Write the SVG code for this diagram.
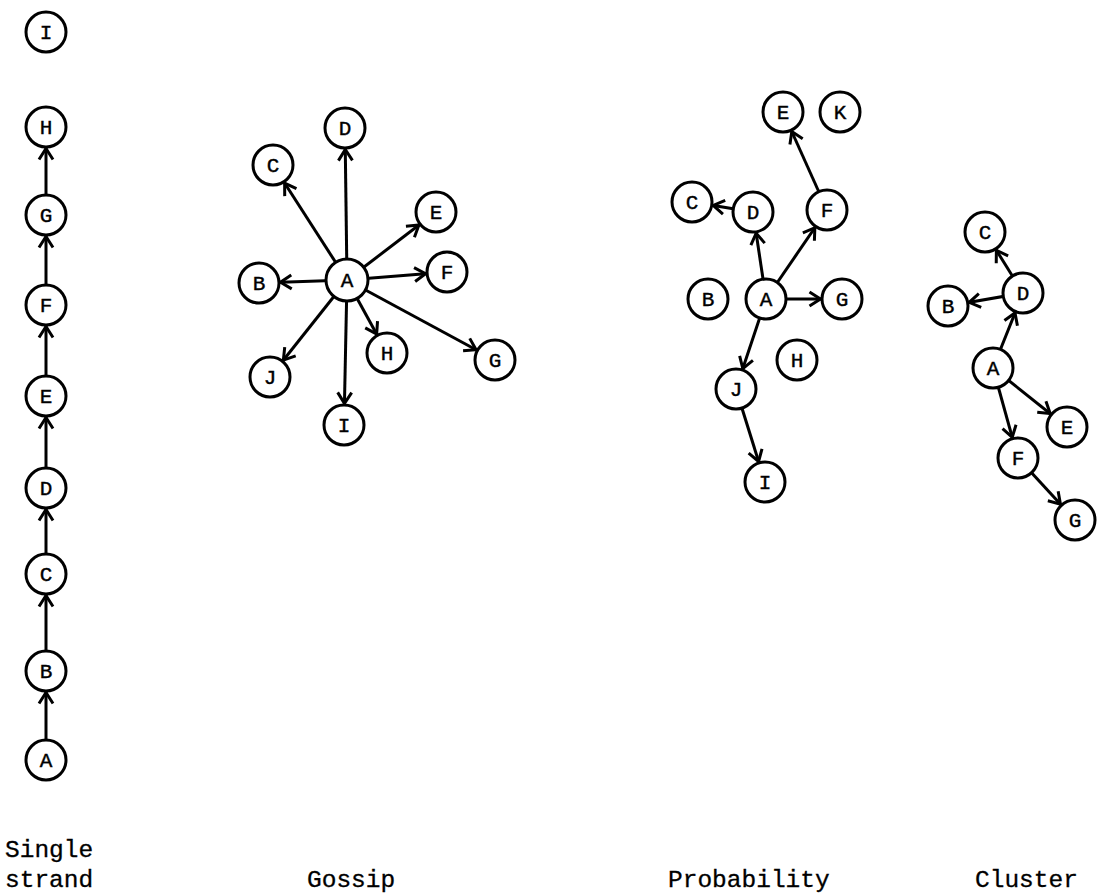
<svg xmlns="http://www.w3.org/2000/svg" width="1097" height="893" viewBox="0 0 1097 893">
<style>
.n{fill:#fff;stroke:#000;stroke-width:3}
.t{font-family:"Liberation Mono","DejaVu Sans Mono",monospace;font-size:21px;text-anchor:middle;fill:#000;stroke:#000;stroke-width:0.4}
.e{stroke:#000;stroke-width:3;fill:none;marker-end:url(#ah)}
.lab{font-family:"Liberation Mono","DejaVu Sans Mono",monospace;font-size:24.5px;fill:#000;stroke:#000;stroke-width:0.3}
</style>
<defs>
<marker id="ah" markerUnits="userSpaceOnUse" markerWidth="30" markerHeight="30" refX="21.5" refY="0" orient="auto" overflow="visible">
<path d="M-11,-7 L0,0 L-11,7" fill="none" stroke="#000" stroke-width="3" stroke-linejoin="miter"/>
</marker>
</defs>
<rect width="1097" height="893" fill="#fff"/>
<g id="connectors">
<line class="e" x1="46" y1="760" x2="46" y2="671"/>
<line class="e" x1="46" y1="671" x2="46" y2="574"/>
<line class="e" x1="46" y1="574" x2="46" y2="488"/>
<line class="e" x1="46" y1="488" x2="46" y2="396"/>
<line class="e" x1="46" y1="396" x2="46" y2="305"/>
<line class="e" x1="46" y1="305" x2="46" y2="215"/>
<line class="e" x1="46" y1="215" x2="46" y2="127"/>
<line class="e" x1="347" y1="280" x2="259" y2="283"/>
<line class="e" x1="347" y1="280" x2="273" y2="165"/>
<line class="e" x1="347" y1="280" x2="345" y2="128"/>
<line class="e" x1="347" y1="280" x2="436" y2="212"/>
<line class="e" x1="347" y1="280" x2="447" y2="272"/>
<line class="e" x1="347" y1="280" x2="495" y2="360"/>
<line class="e" x1="347" y1="280" x2="387" y2="353"/>
<line class="e" x1="347" y1="280" x2="344" y2="425"/>
<line class="e" x1="347" y1="280" x2="270" y2="377"/>
<line class="e" x1="766" y1="299" x2="753" y2="212"/>
<line class="e" x1="766" y1="299" x2="827" y2="210"/>
<line class="e" x1="827" y1="210" x2="783" y2="112"/>
<line class="e" x1="753" y1="212" x2="692" y2="202"/>
<line class="e" x1="766" y1="299" x2="842" y2="299"/>
<line class="e" x1="766" y1="299" x2="736" y2="389"/>
<line class="e" x1="736" y1="389" x2="765" y2="482"/>
<line class="e" x1="1023" y1="293" x2="985" y2="232"/>
<line class="e" x1="1023" y1="293" x2="948" y2="306"/>
<line class="e" x1="993" y1="368" x2="1023" y2="293"/>
<line class="e" x1="993" y1="368" x2="1067" y2="427"/>
<line class="e" x1="993" y1="368" x2="1018" y2="458"/>
<line class="e" x1="1018" y1="458" x2="1075" y2="520"/>
</g>
<g id="single-strand">
<g id="ss-I"><circle class="n" cx="46" cy="32" r="20"/><text class="t" x="46" y="39">I</text></g>
<g id="ss-H"><circle class="n" cx="46" cy="127" r="20"/><text class="t" x="46" y="134">H</text></g>
<g id="ss-G"><circle class="n" cx="46" cy="215" r="20"/><text class="t" x="46" y="222">G</text></g>
<g id="ss-F"><circle class="n" cx="46" cy="305" r="20"/><text class="t" x="46" y="312">F</text></g>
<g id="ss-E"><circle class="n" cx="46" cy="396" r="20"/><text class="t" x="46" y="403">E</text></g>
<g id="ss-D"><circle class="n" cx="46" cy="488" r="20"/><text class="t" x="46" y="495">D</text></g>
<g id="ss-C"><circle class="n" cx="46" cy="574" r="20"/><text class="t" x="46" y="581">C</text></g>
<g id="ss-B"><circle class="n" cx="46" cy="671" r="20"/><text class="t" x="46" y="678">B</text></g>
<g id="ss-A"><circle class="n" cx="46" cy="760" r="20"/><text class="t" x="46" y="767">A</text></g>
</g>
<g id="gossip">
<g id="g-A"><circle class="n" cx="347" cy="280" r="21"/><text class="t" x="347" y="287">A</text></g>
<g id="g-B"><circle class="n" cx="259" cy="283" r="20"/><text class="t" x="259" y="290">B</text></g>
<g id="g-C"><circle class="n" cx="273" cy="165" r="20"/><text class="t" x="273" y="172">C</text></g>
<g id="g-D"><circle class="n" cx="345" cy="128" r="20"/><text class="t" x="345" y="135">D</text></g>
<g id="g-E"><circle class="n" cx="436" cy="212" r="20"/><text class="t" x="436" y="219">E</text></g>
<g id="g-F"><circle class="n" cx="447" cy="272" r="20"/><text class="t" x="447" y="279">F</text></g>
<g id="g-G"><circle class="n" cx="495" cy="360" r="20"/><text class="t" x="495" y="367">G</text></g>
<g id="g-H"><circle class="n" cx="387" cy="353" r="20"/><text class="t" x="387" y="360">H</text></g>
<g id="g-I"><circle class="n" cx="344" cy="425" r="20"/><text class="t" x="344" y="432">I</text></g>
<g id="g-J"><circle class="n" cx="270" cy="377" r="20"/><text class="t" x="270" y="384">J</text></g>
</g>
<g id="probability">
<g id="p-A"><circle class="n" cx="766" cy="299" r="20"/><text class="t" x="766" y="306">A</text></g>
<g id="p-B"><circle class="n" cx="708" cy="299" r="20"/><text class="t" x="708" y="306">B</text></g>
<g id="p-C"><circle class="n" cx="692" cy="202" r="20"/><text class="t" x="692" y="209">C</text></g>
<g id="p-D"><circle class="n" cx="753" cy="212" r="20"/><text class="t" x="753" y="219">D</text></g>
<g id="p-E"><circle class="n" cx="783" cy="112" r="20"/><text class="t" x="783" y="119">E</text></g>
<g id="p-F"><circle class="n" cx="827" cy="210" r="20"/><text class="t" x="827" y="217">F</text></g>
<g id="p-G"><circle class="n" cx="842" cy="299" r="20"/><text class="t" x="842" y="306">G</text></g>
<g id="p-H"><circle class="n" cx="797" cy="360" r="20"/><text class="t" x="797" y="367">H</text></g>
<g id="p-I"><circle class="n" cx="765" cy="482" r="20"/><text class="t" x="765" y="489">I</text></g>
<g id="p-J"><circle class="n" cx="736" cy="389" r="20"/><text class="t" x="736" y="396">J</text></g>
<g id="p-K"><circle class="n" cx="840" cy="112" r="20"/><text class="t" x="840" y="119">K</text></g>
</g>
<g id="cluster">
<g id="c-A"><circle class="n" cx="993" cy="368" r="20"/><text class="t" x="993" y="375">A</text></g>
<g id="c-B"><circle class="n" cx="948" cy="306" r="20"/><text class="t" x="948" y="313">B</text></g>
<g id="c-C"><circle class="n" cx="985" cy="232" r="20"/><text class="t" x="985" y="239">C</text></g>
<g id="c-D"><circle class="n" cx="1023" cy="293" r="20"/><text class="t" x="1023" y="300">D</text></g>
<g id="c-E"><circle class="n" cx="1067" cy="427" r="20"/><text class="t" x="1067" y="434">E</text></g>
<g id="c-F"><circle class="n" cx="1018" cy="458" r="20"/><text class="t" x="1018" y="465">F</text></g>
<g id="c-G"><circle class="n" cx="1075" cy="520" r="20"/><text class="t" x="1075" y="527">G</text></g>
</g>
<g id="labels">
<text class="lab" x="5" y="857">Single</text>
<text class="lab" x="5" y="887">strand</text>
<text class="lab" x="307" y="887">Gossip</text>
<text class="lab" x="668" y="887">Probability</text>
<text class="lab" x="975" y="887">Cluster</text>
</g>
</svg>
